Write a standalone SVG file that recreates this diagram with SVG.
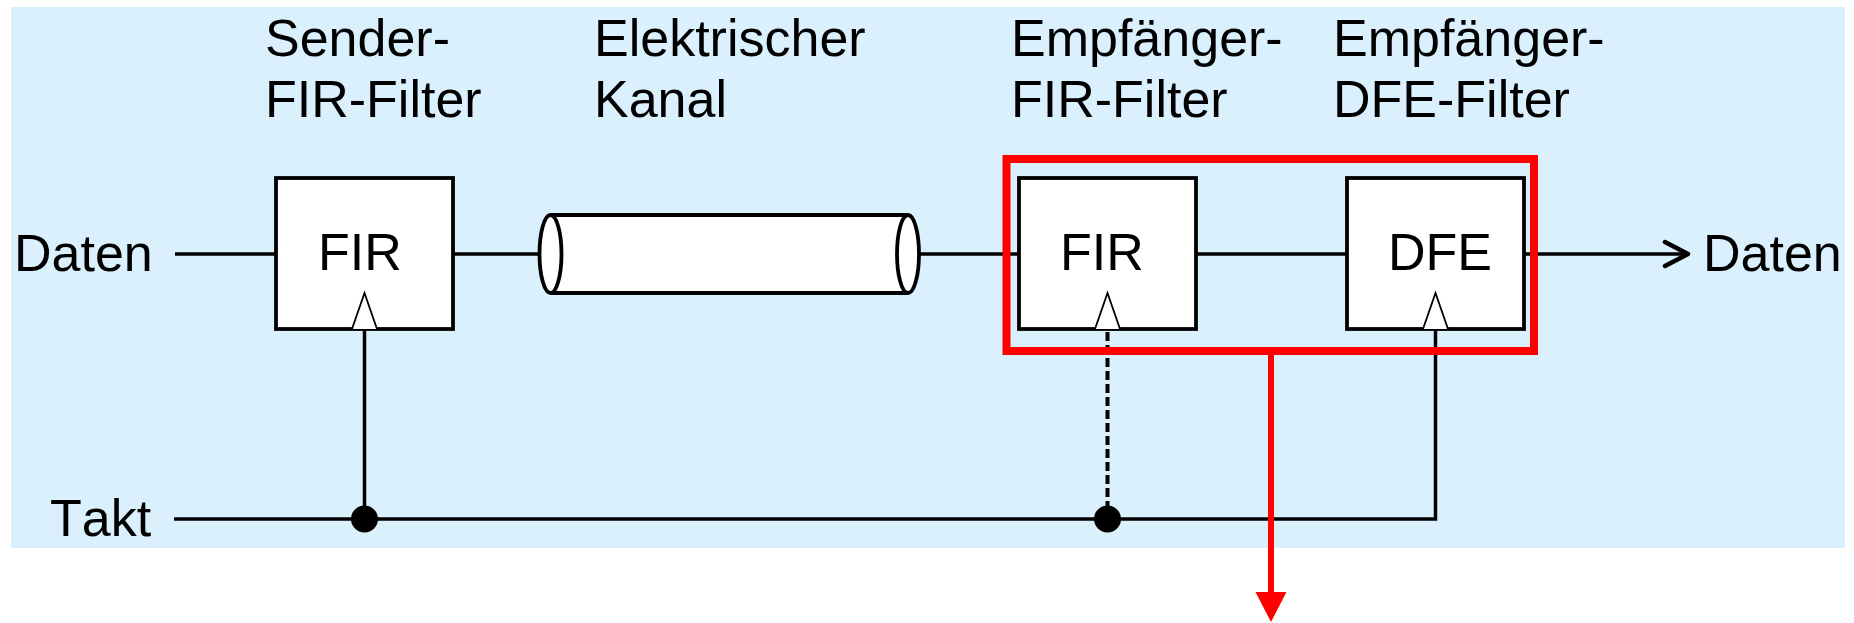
<svg xmlns="http://www.w3.org/2000/svg" width="1854" height="623" viewBox="0 0 1854 623">
<defs>
<style>
.t{font-family:"Liberation Sans",Arial,sans-serif;font-size:52px;fill:#000;font-kerning:none}
.box{fill:#fff;stroke:#000;stroke-width:3.8}
.ln{fill:none;stroke:#000;stroke-width:3.5}
.clk{fill:#fff;stroke:#000;stroke-width:1.8}
</style>
</defs>
<rect x="11" y="7" width="1834" height="541" fill="#DAF0FD"/>
<g id="labels">
<text class="t" x="265" y="56">Sender-</text>
<text class="t" x="265" y="117">FIR-Filter</text>
<text class="t" x="594" y="56">Elektrischer</text>
<text class="t" x="594" y="117">Kanal</text>
<text class="t" x="1011" y="56">Empfänger-</text>
<text class="t" x="1011" y="117">FIR-Filter</text>
<text class="t" x="1333" y="56">Empfänger-</text>
<text class="t" x="1333" y="117">DFE-Filter</text>
<text class="t" x="14" y="271">Daten</text>
<text class="t" x="1703" y="271">Daten</text>
<text class="t" x="50" y="536">Takt</text>
</g>
<g id="connectors">
<line class="ln" x1="175" y1="254" x2="276" y2="254"/>
<line class="ln" x1="453" y1="254" x2="540" y2="254"/>
<line class="ln" x1="919" y1="254" x2="1020" y2="254"/>
<line class="ln" x1="1196" y1="254" x2="1346" y2="254"/>
<line class="ln" x1="1525" y1="254" x2="1687" y2="254"/>
<polyline points="1665,242 1688,254 1665,266" fill="none" stroke="#000" stroke-width="4.5" stroke-linecap="round" stroke-linejoin="round"/>
<polyline class="ln" points="174,519 1435.5,519 1435.5,330"/>
<line class="ln" x1="364.5" y1="330" x2="364.5" y2="519"/>
<line x1="1107.5" y1="332" x2="1107.5" y2="510" stroke="#000" stroke-width="4" stroke-dasharray="9 4"/>
<circle cx="364.5" cy="519" r="13.5" fill="#000"/>
<circle cx="1107.5" cy="519" r="13.5" fill="#000"/>
</g>
<g id="sender-fir">
<rect class="box" x="276" y="178" width="177" height="151"/>
<text class="t" x="318" y="270">FIR</text>
<polyline class="clk" points="352,329 364.5,293 377,329"/>
</g>
<g id="kanal">
<rect x="550.5" y="215" width="357.5" height="78" fill="#fff"/>
<line class="ln" x1="550.5" y1="215" x2="908" y2="215" style="stroke-width:3.8"/>
<line class="ln" x1="550.5" y1="293" x2="908" y2="293" style="stroke-width:3.8"/>
<ellipse cx="550.5" cy="254" rx="11" ry="39" fill="#fff" stroke="#000" stroke-width="3.8"/>
<ellipse cx="908" cy="254" rx="11" ry="39" fill="#fff" stroke="#000" stroke-width="3.8"/>
</g>
<g id="empf-fir">
<rect class="box" x="1019" y="178" width="177" height="151"/>
<text class="t" x="1060" y="270">FIR</text>
<polyline class="clk" points="1095,329 1107.5,293 1120,329"/>
</g>
<g id="empf-dfe">
<rect class="box" x="1347" y="178" width="177" height="151"/>
<text class="t" x="1388" y="270">DFE</text>
<polyline class="clk" points="1423,329 1435.5,293 1448,329"/>
</g>
<g id="highlight">
<rect x="1006.5" y="159" width="527.5" height="192" fill="none" stroke="#FF0000" stroke-width="8"/>
<line x1="1271" y1="355" x2="1271" y2="594" stroke="#FF0000" stroke-width="6"/>
<polygon points="1255.5,592 1286.5,592 1271,622" fill="#FF0000"/>
</g>
</svg>
